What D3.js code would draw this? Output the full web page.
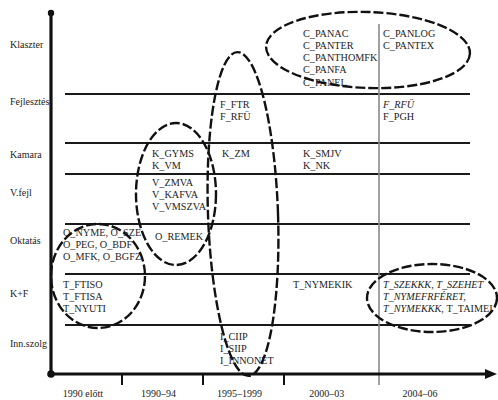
<!DOCTYPE html>
<html>
<head>
<meta charset="utf-8">
<script src="https://cdn.jsdelivr.net/npm/d3@7"></script>
<style>
  html, body { margin: 0; padding: 0; background: #fff; }
  svg { display: block; font-family: "Liberation Serif", "Times New Roman", serif; }
</style>
</head>
<body>
<svg id="chart" width="498" height="400"></svg>
<script>
// ---------------- DATA ----------------
const rows = ["Klaszter", "Fejlesztés", "Kamara", "V.fejl", "Oktatás", "K+F", "Inn.szolg"];
const periods = ["1990 előtt", "1990–94", "1995–1999", "2000–03", "2004–06"];

const klaszterEntries = [
  { row: "Klaszter", period: "2000–03", items: ["C_PANAC", "C_PANTER", "C_PANTHOMFK", "C_PANFA", "C_PANEL"] },
  { row: "Klaszter", period: "2004–06", items: ["C_PANLOG", "C_PANTEX"] }
];
const fejlesztesEntries = [
  { row: "Fejlesztés", period: "1995–1999", items: ["F_FTR", "F_RFÜ"] },
  { row: "Fejlesztés", period: "2004–06", items: ["F_RFÜ", "F_PGH"], italic: [true, false] }
];
const kamaraEntries = [
  { row: "Kamara", period: "1990–94", items: ["K_GYMS", "K_VM"] },
  { row: "Kamara", period: "1995–1999", items: ["K_ZM"] },
  { row: "Kamara", period: "2000–03", items: ["K_SMJV", "K_NK"] }
];
const vfejlEntries = [
  { row: "V.fejl", period: "1990–94", items: ["V_ZMVA", "V_KAFVA", "V_VMSZVA"] }
];
const oktatasEntries = [
  { row: "Oktatás", period: "1990 előtt", items: ["O_NYME, O_SZE", "O_PEG, O_BDF", "O_MFK, O_BGFZ"] },
  { row: "Oktatás", period: "1990–94", items: ["O_REMEK"] }
];
const kfEntries = [
  { row: "K+F", period: "1990 előtt", items: ["T_FTISO", "T_FTISA", "T_NYUTI"] },
  { row: "K+F", period: "2000–03", items: ["T_NYMEKIK"] },
  { row: "K+F", period: "2004–06",
    items: [["T_SZEKKK, T_SZEHET"], ["T_NYMEFRFÉRET,"], ["T_NYMEKKK, ", "T_TAIMEI"]],
    italicParts: [[true], [true], [true, false]] }
];
const innEntries = [
  { row: "Inn.szolg", period: "1995–1999", items: ["I_CIIP", "I_SIIP", "I_INNONET"] }
];

// ---------------- LAYOUT ----------------
const svg = d3.select("#chart");

// piecewise scales: boundaries of columns / rows
const x = d3.scaleLinear().domain([0, 1, 2, 3, 4, 5]).range([51, 122, 203, 284, 379, 470]);
const y = d3.scaleLinear().domain([0, 1, 2, 3, 4, 5, 6, 7]).range([13, 94, 143, 174, 224, 274, 325, 374]);

const colPad = [12, 30, 17, 19, 4];
const rowPad = [20, 10, 10, 8, 8, 10, 11];
const rowLabelPad = [31, 7, 11, 18, 16, 19, 18];
const lineH = 12.3;
const fontSize = 10.2;
const ink = "#1c1c1c";

// horizontal row separators
svg.append("g").selectAll("line")
  .data(d3.range(1, rows.length))
  .join("line")
  .attr("x1", 65).attr("x2", x(5))
  .attr("y1", d => y(d)).attr("y2", d => y(d))
  .attr("stroke", "#1a1a1a").attr("stroke-width", 2);

// gray vertical divider before last period
svg.append("line")
  .attr("x1", x(4)).attr("x2", x(4))
  .attr("y1", 24).attr("y2", y(7) + 11)
  .attr("stroke", "#8a8a8a").attr("stroke-width", 1.6);

// x ticks
svg.append("g").selectAll("line")
  .data([1, 2, 3])
  .join("line")
  .attr("x1", d => x(d)).attr("x2", d => x(d))
  .attr("y1", y(7)).attr("y2", y(7) + 11)
  .attr("stroke", "#111").attr("stroke-width", 2);

// axes
svg.append("line").attr("x1", x(0)).attr("x2", 488)
  .attr("y1", y(7)).attr("y2", y(7))
  .attr("stroke", "#111").attr("stroke-width", 3.2);
svg.append("path")
  .attr("d", `M${497},${y(7)} L${485},${y(7) - 5} L${485},${y(7) + 5} Z`)
  .attr("fill", "#111");
svg.append("line").attr("x1", x(0)).attr("x2", x(0))
  .attr("y1", 13).attr("y2", y(7))
  .attr("stroke", "#111").attr("stroke-width", 3.2);
svg.append("circle").attr("cx", x(0)).attr("cy", 13).attr("r", 3.2).attr("fill", "#111");
svg.append("circle").attr("cx", x(0)).attr("cy", y(7)).attr("r", 3.8).attr("fill", "#111");

// row labels
svg.append("g").selectAll("text")
  .data(rows)
  .join("text")
  .attr("x", 10)
  .attr("y", (d, i) => y(i) + rowLabelPad[i])
  .attr("dy", "0.35em")
  .attr("font-size", 10)
  .attr("fill", ink)
  .text(d => d);

// period labels
svg.append("g").selectAll("text")
  .data(periods)
  .join("text")
  .attr("x", (d, i) => x(i) + (x(i + 1) - x(i)) * 0.45)
  .attr("y", 393)
  .attr("dy", "0.35em")
  .attr("text-anchor", "middle")
  .attr("font-size", 10)
  .attr("fill", ink)
  .text(d => d);

// entries
const allEntries = [].concat(klaszterEntries, fejlesztesEntries, kamaraEntries,
  vfejlEntries, oktatasEntries, kfEntries, innEntries);

const xTweak = { "T_NYMEKIK": -10, "O_REMEK": 3, "K_ZM": 2 };
const yTweak = { "O_REMEK": 4 };

const eg = svg.append("g").attr("font-size", fontSize).attr("fill", ink);
allEntries.forEach(e => {
  const ci = periods.indexOf(e.period), ri = rows.indexOf(e.row);
  e.items.forEach((it, li) => {
    const first = Array.isArray(it) ? it[0] : it;
    const t = eg.append("text")
      .attr("x", x(ci) + colPad[ci] + (xTweak[first] || 0))
      .attr("y", y(ri) + rowPad[ri] + li * lineH + (yTweak[first] || 0))
      .attr("dy", "0.35em");
    if (Array.isArray(it)) {
      it.forEach((part, pi) => {
        t.append("tspan").text(part)
          .attr("font-style", e.italicParts[li][pi] ? "italic" : "normal");
      });
    } else {
      t.text(it).attr("font-style", e.italic && e.italic[li] ? "italic" : "normal");
    }
  });
});

// dashed grouping ellipses
const ellipses = [
  { cx: 368, cy: 50, rx: 102, ry: 38, rot: 2 },
  { cx: 243, cy: 214, rx: 35, ry: 162, rot: -2 },
  { cx: 176, cy: 194, rx: 40, ry: 71, rot: 0 },
  { cx: 98, cy: 276, rx: 47, ry: 52, rot: 0 },
  { cx: 432, cy: 298, rx: 65, ry: 34, rot: 0 }
];
svg.append("g").selectAll("ellipse")
  .data(ellipses)
  .join("ellipse")
  .attr("cx", d => d.cx).attr("cy", d => d.cy)
  .attr("rx", d => d.rx).attr("ry", d => d.ry)
  .attr("transform", d => `rotate(${d.rot},${d.cx},${d.cy})`)
  .attr("fill", "none")
  .attr("stroke", "#111")
  .attr("stroke-width", 2.4)
  .attr("stroke-dasharray", "10,3");
</script>
</body>
</html>
